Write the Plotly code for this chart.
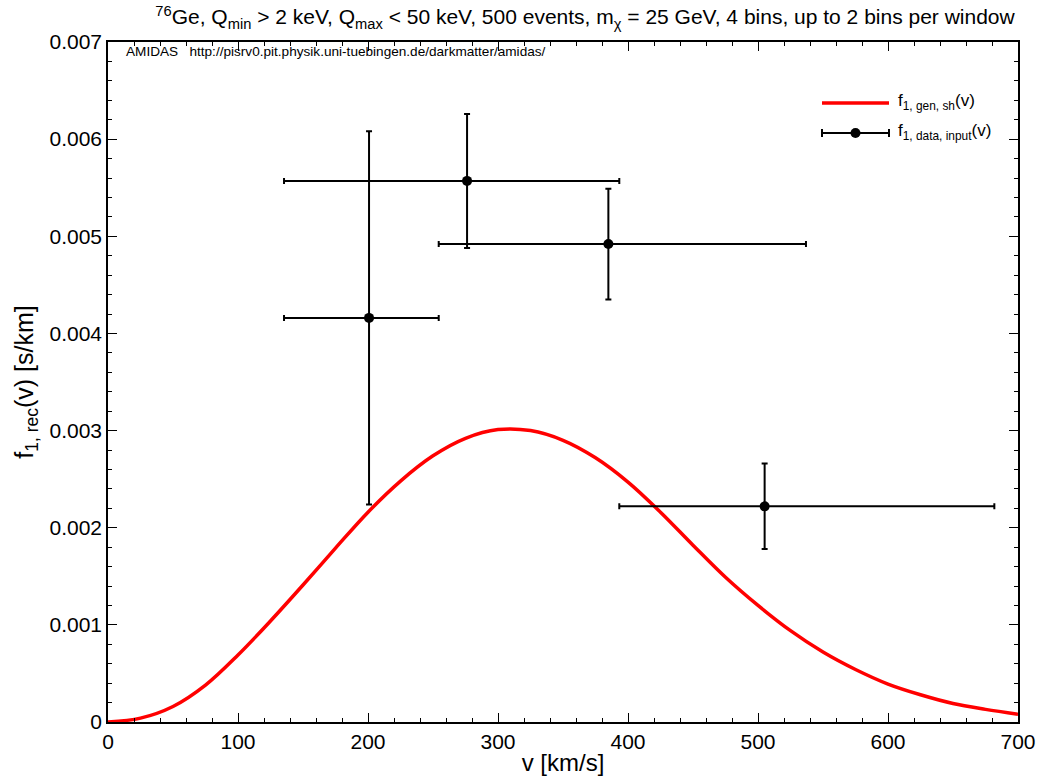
import plotly.graph_objects as go

# Theoretical curve f_1,gen,sh(v)
curve_v = [0, 25, 50, 75, 100, 125, 150, 175, 200, 225, 250, 275, 300, 325,
           350, 375, 400, 425, 450, 475, 500, 525, 550, 575, 600, 625, 650, 675, 700]
curve_f = [0.0, 0.00004, 0.00016, 0.00038, 0.00069, 0.00104, 0.00141, 0.00179,
           0.00216, 0.00248, 0.00274, 0.00292, 0.00301, 0.00300,
           0.00290, 0.00272, 0.00247, 0.00216, 0.00182, 0.00149, 0.00120,
           0.00094, 0.00072, 0.00054, 0.00039, 0.00028, 0.00019, 0.00013, 0.00008]

# Reconstructed data points
data_v = [200.8, 276.2, 384.9, 505.1]
data_f = [0.00416, 0.00557, 0.00492, 0.00222]
data_ferr = [0.00192, 0.00069, 0.00057, 0.00044]
win_lo = [135.4, 135.4, 254.4, 393.3]
win_hi = [254.4, 393.3, 536.9, 681.8]

x_ticks = [0, 100, 200, 300, 400, 500, 600, 700]
y_ticks = [0, 0.001, 0.002, 0.003, 0.004, 0.005, 0.006, 0.007]
y_ticktext = ["0", "0.001", "0.002", "0.003", "0.004", "0.005", "0.006", "0.007"]

legend_names = ["f<sub>1, gen, sh</sub>(v)", "f<sub>1, data, input</sub>(v)"]

FONT = "Liberation Sans, Arial, sans-serif"

W, H = 1042, 780
L, R, T, B = 108, 24, 42, 58
PW, PH = W - L - R, H - T - B


def px(xp):
    return (xp - L) / PW


def py(yp):
    return (H - B - yp) / PH


err_plus = [h - v for h, v in zip(win_hi, data_v)]
err_minus = [v - l for l, v in zip(win_lo, data_v)]

fig = go.Figure()
fig.add_trace(go.Scatter(
    x=curve_v, y=curve_f, mode="lines",
    line=dict(color="#ff0000", width=3.5, shape="spline"),
    name=legend_names[0], showlegend=False))
fig.add_trace(go.Scatter(
    x=data_v, y=data_f, mode="markers",
    marker=dict(color="black", size=10),
    error_y=dict(type="data", array=data_ferr, color="black", thickness=2, width=3),
    error_x=dict(type="data", array=err_plus, arrayminus=err_minus, symmetric=False,
                 color="black", thickness=2, width=3),
    name=legend_names[1], showlegend=False))

axis_common = dict(
    showline=True, linecolor="black", linewidth=1.5, mirror="allticks",
    ticks="inside", ticklen=9, tickwidth=1.2, tickcolor="black",
    showgrid=False, zeroline=False, automargin=False,
    tickfont=dict(family=FONT, size=21, color="black"),
)

fig.update_xaxes(range=[0, 700], tickvals=x_ticks, **axis_common,
                 minor=dict(ticks="inside", ticklen=4, dtick=20, tickcolor="black", showgrid=False),
                 title=dict(text="v [km/s]", font=dict(family=FONT, size=24, color="black"), standoff=2))
fig.update_yaxes(range=[0, 0.007], tickvals=y_ticks, ticktext=y_ticktext, **axis_common,
                 minor=dict(ticks="inside", ticklen=4, dtick=0.0002, tickcolor="black", showgrid=False),
                 title=dict(text="f<sub>1, rec</sub>(v) [s/km]", font=dict(family=FONT, size=25, color="black"), standoff=9))

# hand-drawn legend (paper coordinates)
shapes = [
    dict(type="line", xref="paper", yref="paper", x0=px(822), x1=px(889), y0=py(103), y1=py(103),
         line=dict(color="#ff0000", width=3.5)),
    dict(type="line", xref="paper", yref="paper", x0=px(822), x1=px(889), y0=py(133), y1=py(133),
         line=dict(color="black", width=2)),
    dict(type="line", xref="paper", yref="paper", x0=px(822), x1=px(822), y0=py(129), y1=py(137),
         line=dict(color="black", width=2)),
    dict(type="line", xref="paper", yref="paper", x0=px(889), x1=px(889), y0=py(129), y1=py(137),
         line=dict(color="black", width=2)),
    dict(type="circle", xref="paper", yref="paper", x0=px(850.5), x1=px(860.5), y0=py(138), y1=py(128),
         fillcolor="black", line=dict(color="black", width=0)),
]

annotations = [
    dict(text="AMIDAS   http://pisrv0.pit.physik.uni-tuebingen.de/darkmatter/amidas/",
         xref="paper", yref="paper", x=px(124), y=py(52), xanchor="left", yanchor="middle",
         showarrow=False, font=dict(family=FONT, size=13.6, color="black")),
    dict(text=legend_names[0], xref="paper", yref="paper", x=px(896), y=py(102),
         xanchor="left", yanchor="middle", showarrow=False,
         font=dict(family=FONT, size=17, color="black")),
    dict(text=legend_names[1], xref="paper", yref="paper", x=px(896), y=py(132),
         xanchor="left", yanchor="middle", showarrow=False,
         font=dict(family=FONT, size=17, color="black")),
]

fig.update_layout(
    width=W, height=H,
    margin=dict(l=L, r=R, t=T, b=B, autoexpand=False),
    paper_bgcolor="white", plot_bgcolor="white",
    font=dict(family=FONT, color="black"),
    showlegend=False,
    title=dict(text="<sup>76</sup>Ge, Q<sub>min</sub> > 2 keV, Q<sub>max</sub> < 50 keV, 500 events, m<sub>χ</sub> = 25 GeV, 4 bins, up to 2 bins per window",
               xref="container", x=585 / W, xanchor="center", yref="container", y=1 - 17 / H, yanchor="middle",
               font=dict(family=FONT, size=21, color="black")),
    shapes=shapes,
    annotations=annotations,
)

fig.write_html(
    "out.html",
    config={"displayModeBar": False},
    post_script=("document.documentElement.style.overflow='hidden';"
                 "document.body.style.overflow='hidden';"
                 "document.body.style.margin='0';"),
)
